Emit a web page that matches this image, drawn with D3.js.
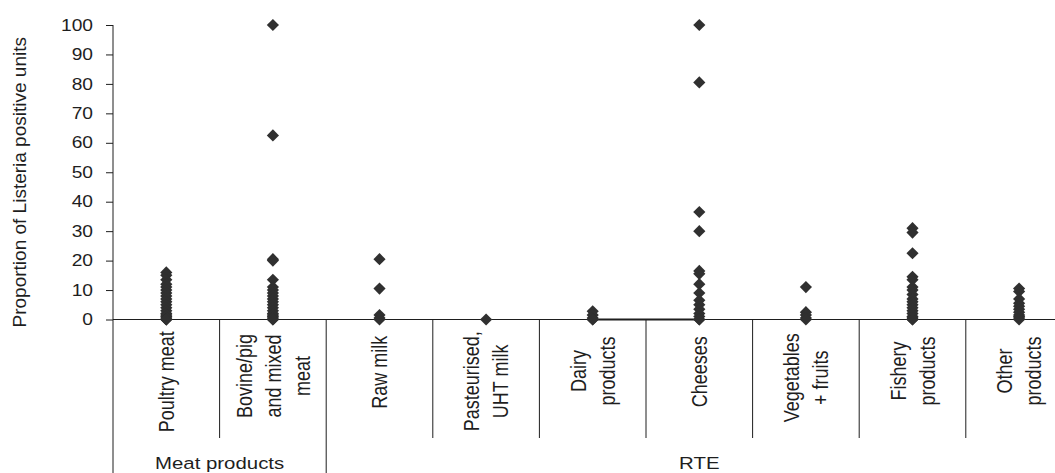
<!DOCTYPE html>
<html>
<head>
<meta charset="utf-8">
<script src="https://cdn.jsdelivr.net/npm/d3@7"></script>
<style>
  html, body { margin: 0; padding: 0; background: #fff; }
  svg { display: block; font-family: "Liberation Sans", Arial, sans-serif; }
</style>
</head>
<body>
<svg id="chart" width="1055" height="473"></svg>
<script>
// Product categories along the x axis, and how their names wrap
const categories = ["Poultry meat", "Bovine/pig and mixed meat", "Raw milk", "Pasteurised, UHT milk",
  "Dairy products", "Cheeses", "Vegetables + fruits", "Fishery products", "Other products"];
const categoryLines = [["Poultry meat"], ["Bovine/pig", "and mixed", "meat"], ["Raw milk"],
  ["Pasteurised,", "UHT milk"], ["Dairy", "products"], ["Cheeses"], ["Vegetables", "+ fruits"],
  ["Fishery", "products"], ["Other", "products"]];

// Upper grouping of the categories
const groups = ["Meat products", "RTE"];
const groupSizes = [2, 7];

// Proportion of Listeria positive units (%) per study, by category
const poultryMeat = [16, 15, 13.5, 12, 11, 10, 9, 8, 7, 6, 5, 4, 3, 2, 1.5, 1, 0.5, 0, 0, 0];
const bovinePigMixed = [100, 62.5, 20.5, 20, 13.5, 11, 10, 9, 8, 7, 6, 5, 4, 3, 2, 1.5, 1, 0.5, 0, 0];
const rawMilk = [20.5, 10.5, 1.5, 0.5, 0];
const pasteurisedMilk = [0];
const dairyProducts = [2.8, 1.5, 0.5, 0, 0];
const cheeses = [100, 80.5, 36.5, 30, 16.5, 15.5, 12, 9, 6.5, 5, 3.5, 2, 1, 0, 0];
const vegetablesFruits = [11, 2.5, 1.5, 0.5, 0];
const fisheryProducts = [31, 29.5, 22.5, 14.5, 13.5, 11, 10, 8.5, 7, 6, 5, 4, 3, 2, 1, 0.5, 0, 0];
const otherProducts = [10.5, 9.5, 7, 5.5, 4.5, 3.5, 2.5, 1.5, 1, 0.5, 0];
const seriesValues = [poultryMeat, bovinePigMixed, rawMilk, pasteurisedMilk, dairyProducts,
  cheeses, vegetablesFruits, fisheryProducts, otherProducts];

// Zero-level segment joining two categories
const zeroLink = ["Dairy products", "Cheeses"];

const yTicks = [0, 10, 20, 30, 40, 50, 60, 70, 80, 90, 100];
const yTitle = "Proportion of Listeria positive units";

const svg = d3.select("#chart");
const ink = "#1e1e1e";
const markColor = "#303030";

const x = d3.scaleBand().domain(categories).range([113, 1072.4]).padding(0);
const y = d3.scaleLinear().domain([0, 100]).range([319.5, 25]);
const xMid = c => x(c) + x.bandwidth() / 2;
const axisY = y(0);

// Y axis with outward ticks and horizontally widened labels
const yAxis = svg.append("g")
  .attr("transform", `translate(${x.range()[0]},0)`)
  .call(d3.axisLeft(y).tickValues(yTicks).tickSize(7).tickFormat(d3.format("d")));
yAxis.select(".domain").remove();
yAxis.selectAll(".tick line").attr("stroke", ink).attr("stroke-width", 1);
yAxis.selectAll(".tick text")
  .attr("x", 0)
  .attr("fill", ink)
  .attr("font-size", 16)
  .attr("font-family", "Liberation Sans, Arial, sans-serif")
  .attr("transform", "translate(-20,0) scale(1.2,1)");

// Y axis line running down through the category table
svg.append("line")
  .attr("x1", x.range()[0]).attr("x2", x.range()[0])
  .attr("y1", y(100)).attr("y2", 473)
  .attr("stroke", ink).attr("stroke-width", 1);

// X axis line
svg.append("line")
  .attr("x1", x.range()[0]).attr("x2", x.range()[1])
  .attr("y1", axisY).attr("y2", axisY)
  .attr("stroke", ink).attr("stroke-width", 1);

// Category dividers
const groupEdges = d3.cumsum(groupSizes);
categories.slice(1).forEach((c, i) => {
  const isGroupEdge = groupEdges.includes(i + 1);
  svg.append("line")
    .attr("x1", x(c)).attr("x2", x(c))
    .attr("y1", axisY).attr("y2", isGroupEdge ? 473 : 438)
    .attr("stroke", ink).attr("stroke-width", 1);
});

// Rotated, wrapped category labels
categories.forEach((c, i) => {
  const lines = categoryLines[i];
  const g = svg.append("g");
  const texts = lines.map((t, j) => {
    const cx = xMid(c) + (j - (lines.length - 1) / 2) * 29;
    return g.append("text")
      .attr("text-anchor", "middle")
      .attr("dy", "0.35em")
      .attr("font-size", 18)
      .attr("fill", ink)
      .attr("data-cx", cx)
      .text(t);
  });
  const maxLen = d3.max(texts, t => t.node().getComputedTextLength());
  const cy = 348 + maxLen / 3;
  texts.forEach(t => {
    t.attr("transform", `translate(${+t.attr("data-cx")},${cy}) scale(1.25,1) rotate(-90)`);
  });
});

// Group labels
let start = 0;
groups.forEach((name, i) => {
  const first = categories[start];
  const last = categories[start + groupSizes[i] - 1];
  const cx = (x(first) + x(last) + x.bandwidth()) / 2;
  svg.append("text")
    .attr("text-anchor", "middle")
    .attr("font-size", 17)
    .attr("fill", ink)
    .attr("transform", `translate(${cx},469) scale(1.2,1)`)
    .text(name);
  start += groupSizes[i];
});

// Y axis title
svg.append("text")
  .attr("text-anchor", "middle")
  .attr("font-size", 19)
  .attr("fill", ink)
  .attr("transform", `translate(26,${(y(100) + axisY) / 2 + 10}) rotate(-90)`)
  .text(yTitle);

// Zero-level link
svg.append("line")
  .attr("x1", xMid(zeroLink[0])).attr("x2", xMid(zeroLink[1]))
  .attr("y1", y(0)).attr("y2", y(0))
  .attr("stroke", ink).attr("stroke-width", 2.2);

// Diamond markers
const points = categories.flatMap((c, i) => seriesValues[i].map(v => ({ c, v })));
const diamond = d3.symbol().type(d3.symbolSquare).size(74);
svg.append("g").selectAll("path")
  .data(points)
  .join("path")
  .attr("d", diamond)
  .attr("fill", markColor)
  .attr("transform", d => `translate(${xMid(d.c)},${y(d.v)}) rotate(45)`);
</script>
</body>
</html>
